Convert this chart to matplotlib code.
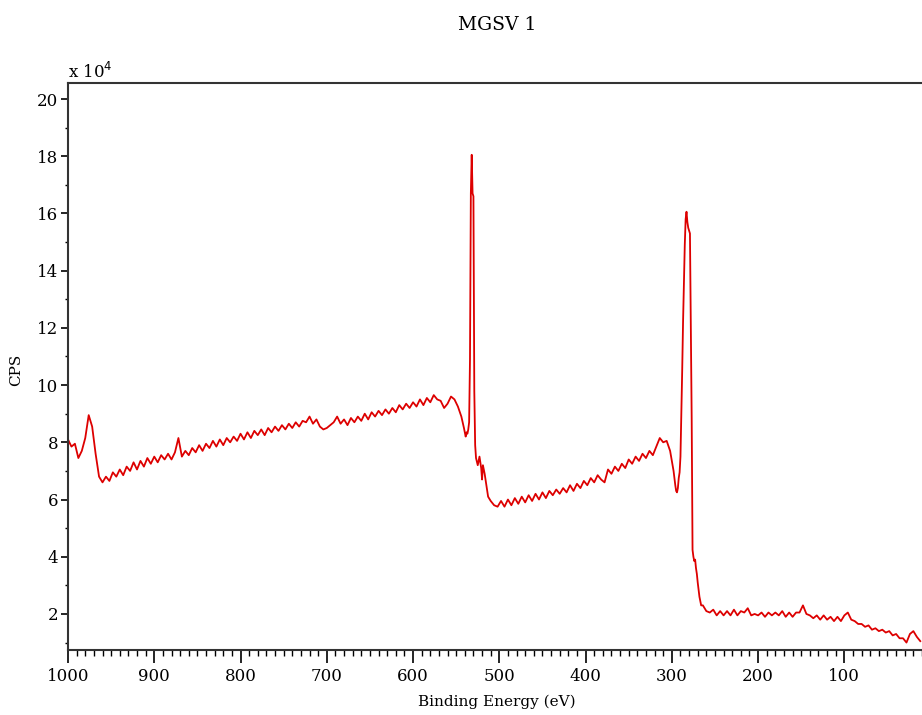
import numpy as np
import matplotlib
matplotlib.use("Agg")
import matplotlib.pyplot as plt
from matplotlib.ticker import MultipleLocator

# XPS survey, counts in units of 1e4 CPS
# background 1000 -> 544 eV, 4 eV steps
bg_high = [8.1, 7.85, 7.95, 7.45, 7.7, 8.15, 8.95, 8.55, 7.6, 6.8,
           6.6, 6.8, 6.65, 6.95, 6.8, 7.05, 6.85, 7.15, 7.0, 7.3,
           7.05, 7.35, 7.15, 7.45, 7.25, 7.5, 7.3, 7.55, 7.4, 7.6,
           7.4, 7.65, 8.15, 7.5, 7.7, 7.55, 7.8, 7.65, 7.9, 7.7,
           7.95, 7.8, 8.05, 7.85, 8.1, 7.9, 8.15, 8.0, 8.2, 8.05,
           8.3, 8.1, 8.35, 8.15, 8.4, 8.25, 8.45, 8.25, 8.5, 8.35,
           8.55, 8.4, 8.6, 8.45, 8.65, 8.5, 8.7, 8.55, 8.75, 8.7,
           8.9, 8.65, 8.8, 8.55, 8.45, 8.5, 8.6, 8.7, 8.9, 8.65,
           8.8, 8.6, 8.85, 8.7, 8.9, 8.75, 9.0, 8.8, 9.05, 8.9,
           9.1, 8.95, 9.15, 9.0, 9.2, 9.05, 9.3, 9.15, 9.35, 9.2,
           9.4, 9.25, 9.5, 9.3, 9.55, 9.4, 9.65, 9.5, 9.45, 9.2,
           9.35, 9.6, 9.5, 9.25, 8.9]

# O 1s region
o1s_be = [541, 539, 538, 537, 536, 535, 534, 533, 532, 531, 530, 529, 528,
          527, 525, 523, 521, 520, 519, 517, 515, 513]
o1s_cps = [8.5, 8.2, 8.35, 8.3, 8.45, 8.7, 10.9, 16.7, 18.05, 16.7, 16.6,
           9.8, 7.9, 7.45, 7.2, 7.5, 7.1, 6.7, 7.2, 6.9, 6.5, 6.1]

# valley 510 -> 298 eV, 4 eV steps
bg_mid = [5.95, 5.8, 5.75, 5.95, 5.75, 6.0, 5.8, 6.05, 5.85, 6.1,
          5.9, 6.15, 5.95, 6.2, 6.0, 6.25, 6.05, 6.3, 6.15, 6.35,
          6.2, 6.4, 6.25, 6.5, 6.3, 6.55, 6.4, 6.65, 6.5, 6.75,
          6.6, 6.85, 6.7, 6.6, 7.05, 6.9, 7.15, 7.0, 7.25, 7.1,
          7.4, 7.25, 7.5, 7.35, 7.6, 7.45, 7.7, 7.55, 7.85, 8.15,
          8.0, 8.05, 7.7, 7.0]

# C 1s region
c1s_be = [296, 295, 294, 293, 292, 291, 290, 289, 288, 287, 286, 285, 284,
          283, 282, 281, 280, 279, 278, 277, 276, 275, 274, 273, 272, 271,
          270, 268, 266]
c1s_cps = [6.5, 6.3, 6.25, 6.4, 6.75, 6.95, 7.5, 9.0, 10.5, 12.2, 13.6,
           14.9, 15.8, 16.06, 15.7, 15.5, 15.4, 15.3, 12.0, 8.85, 4.24,
           4.0, 3.85, 3.9, 3.6, 3.4, 3.1, 2.6, 2.3]

# tail 264 -> 12 eV, 4 eV steps
bg_low = [2.3, 2.1, 2.05, 2.15, 1.95, 2.1, 1.95, 2.1, 1.95, 2.15,
          1.95, 2.1, 2.05, 2.2, 1.95, 2.0, 1.95, 2.05, 1.9, 2.05,
          1.95, 2.05, 1.95, 2.1, 1.9, 2.05, 1.9, 2.05, 2.05, 2.3,
          2.0, 1.95, 1.85, 1.95, 1.8, 1.95, 1.8, 1.9, 1.75, 1.9,
          1.75, 1.95, 2.05, 1.8, 1.75, 1.65, 1.65, 1.55, 1.6, 1.45,
          1.5, 1.4, 1.45, 1.35, 1.4, 1.25, 1.3, 1.15, 1.15, 1.0,
          1.3, 1.4, 1.2, 1.05]

be = np.concatenate([np.linspace(1000, 544, len(bg_high)), o1s_be,
                     np.linspace(510, 298, len(bg_mid)), c1s_be,
                     np.linspace(264, 12, len(bg_low))])
cps = np.concatenate([bg_high, o1s_cps, bg_mid, c1s_cps, bg_low])

plt.rcParams['font.family'] = ['DejaVu Serif']

fig = plt.figure(figsize=(9.22, 7.15), dpi=100)
ax = fig.add_axes([68 / 922, 1 - 650 / 715, 1 - 68 / 922, (650 - 83) / 715])
ax.plot(be, cps, color='#dd0000', lw=1.3)

ax.set_xlim(1000, 10)
ax.set_ylim(0.74, 20.56)
ax.set_xticks(range(100, 1001, 100))
ax.set_xticklabels([str(v) for v in range(100, 1001, 100)])
ax.xaxis.set_minor_locator(MultipleLocator(10))
ax.yaxis.set_major_locator(MultipleLocator(2))
ax.yaxis.set_minor_locator(MultipleLocator(1))
ax.tick_params(axis='x', which='major', direction='out', length=9, width=1.2, labelsize=12, pad=4)
ax.tick_params(axis='x', which='minor', direction='out', length=4.5, width=1.0)
ax.tick_params(axis='y', which='major', direction='out', length=5, width=1.2, labelsize=12, pad=2)
ax.tick_params(axis='y', which='minor', direction='out', length=2.5, width=1.0)

for side in ['left', 'top', 'bottom']:
    ax.spines[side].set_linewidth(1.5)
    ax.spines[side].set_color('#333333')
ax.spines['right'].set_visible(False)

fig.text(497 / 922, 1 - 25 / 715, 'MGSV 1', ha='center', va='center', fontsize=13.5)
fig.text(68 / 922, 1 - 72 / 715, r'x 10$^4$', ha='left', va='center', fontsize=12)
fig.text(16 / 922, 1 - 370 / 715, 'CPS', rotation=90, ha='center', va='center', fontsize=11)
fig.text(497 / 922, 1 - 702 / 715, 'Binding Energy (eV)', ha='center', va='center', fontsize=11)

fig.savefig('out.png', dpi=100)
